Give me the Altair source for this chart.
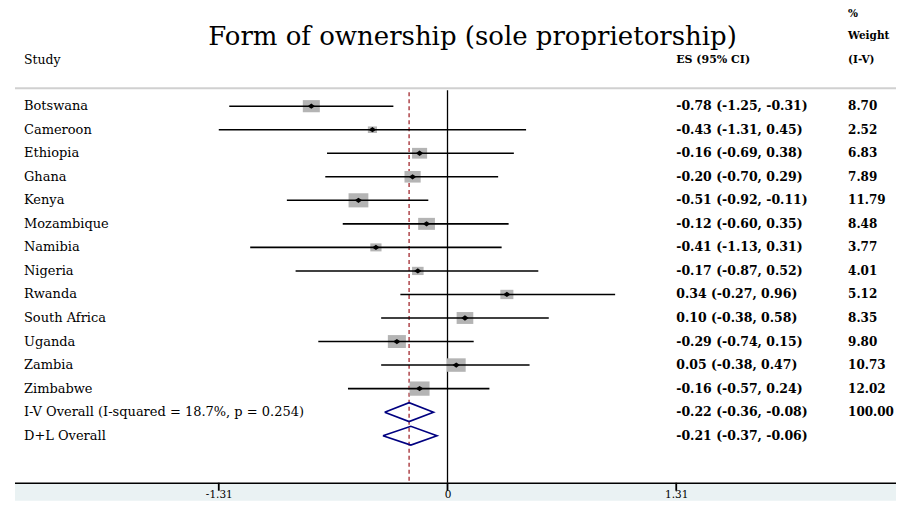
import altair as alt
import pandas as pd

# ---------------- data ----------------
studies = ["Botswana", "Cameroon", "Ethiopia", "Ghana", "Kenya", "Mozambique", "Namibia",
           "Nigeria", "Rwanda", "South Africa", "Uganda", "Zambia", "Zimbabwe"]
es = [-0.78, -0.43, -0.16, -0.20, -0.51, -0.12, -0.41, -0.17, 0.34, 0.10, -0.29, 0.05, -0.16]
lo = [-1.25, -1.31, -0.69, -0.70, -0.92, -0.60, -1.13, -0.87, -0.27, -0.38, -0.74, -0.38, -0.57]
hi = [-0.31, 0.45, 0.38, 0.29, -0.11, 0.35, 0.31, 0.52, 0.96, 0.58, 0.15, 0.47, 0.24]
weights = [8.70, 2.52, 6.83, 7.89, 11.79, 8.48, 3.77, 4.01, 5.12, 8.35, 9.80, 10.73, 12.02]

overall_labels = ["I-V Overall  (I-squared = 18.7%, p = 0.254)", "D+L Overall"]
overall_es = [-0.22, -0.21]
overall_lo = [-0.36, -0.37]
overall_hi = [-0.08, -0.06]
overall_w = ["100.00", ""]

title_text = "Form of ownership (sole proprietorship)"
x_ticks = [-1.31, 0, 1.31]

# ---------------- tables ----------------
n = len(studies)
df = pd.DataFrame({"study": studies, "es": es, "lo": lo, "hi": hi, "w": weights,
                   "row": list(range(n))})
df["es_txt"] = [f"{e:.2f} ({l:.2f}, {h:.2f})" for e, l, h in zip(es, lo, hi)]
df["w_txt"] = [f"{v:.2f}" for v in weights]

ov = pd.DataFrame({"study": overall_labels, "es": overall_es, "lo": overall_lo,
                   "hi": overall_hi, "w_txt": overall_w,
                   "row": [n, n + 1]})
ov["es_txt"] = [f"{e:.2f} ({l:.2f}, {h:.2f})" for e, l, h in zip(overall_es, overall_lo, overall_hi)]

labels_df = pd.concat([df[["study", "es_txt", "w_txt", "row"]],
                       ov[["study", "es_txt", "w_txt", "row"]]], ignore_index=True)

HALF = 0.4
dia_rows = []
for i, r in ov.iterrows():
    pts = [(r.lo, r.row), (r.es, r.row - HALF), (r.hi, r.row), (r.es, r.row + HALF), (r.lo, r.row)]
    for k, (px, py) in enumerate(pts):
        dia_rows.append({"id": i, "k": k, "x": px, "y": py})
dia = pd.DataFrame(dia_rows)

zero_df = pd.DataFrame({"x": [0.0]})
ref_df = pd.DataFrame({"x": [overall_es[0]]})
ticks_df = pd.DataFrame({"tx": x_ticks})
one = pd.DataFrame({"z": [0]})

# ---------------- scales ----------------
W, H = 889, 475
PX = 174.8
X0 = 440
xscale = alt.Scale(domain=[-X0 / PX, (W - X0) / PX], nice=False, zero=False, padding=0)
yscale = alt.Scale(domain=[16.0, -4.16], nice=False, zero=False, padding=0)

SERIF = "DejaVu Serif"

AX = alt.Axis(values=x_ticks, domain=False, grid=False, ticks=False,
              labelFont=SERIF, labelFontSize=10.5,
              labelColor="black", labelPadding=7, zindex=1, labelBaseline="top",
              labelExpr="datum.value == 0 ? '0' : (datum.value < 0 ? '-' + format(-datum.value, '.2f') : format(datum.value, '.2f'))")

def X(field):
    return alt.X(field, scale=xscale, axis=AX, title=None)

def Y(field):
    return alt.Y(field, scale=yscale, axis=None)

# bottom band
band = alt.Chart(one).mark_rect(color="#eaf2f3").encode(
    x=alt.value(7), x2=alt.value(W), y=alt.value(476), y2=alt.value(493))
axis_line = alt.Chart(one).mark_rule(color="black", strokeWidth=1.5).encode(
    x=alt.value(7), x2=alt.value(W), y=alt.value(475.5))
tick_marks = alt.Chart(ticks_df).mark_rule(color="black", strokeWidth=1.8, clip=False).encode(
    x=X("tx:Q"), y=alt.value(475), y2=alt.value(483))
sep_line = alt.Chart(one).mark_rule(color="#d0d0d0", strokeWidth=2).encode(
    x=alt.value(7), x2=alt.value(W), y=alt.value(80))

zero_rule = alt.Chart(zero_df).mark_rule(color="black", strokeWidth=1.3).encode(
    x=X("x:Q"), y=alt.value(82), y2=alt.value(475))
ref_rule = alt.Chart(ref_df).mark_rule(color="#a3282e", strokeWidth=1.3, strokeDash=[4, 3]).encode(
    x=X("x:Q"), y=alt.value(84), y2=alt.value(475))

boxes = alt.Chart(df).mark_point(shape="M-1.4,-1L1.4,-1L1.4,1L-1.4,1Z", filled=True,
                                 color="#b4b4b4", opacity=1).encode(
    x=X("es:Q"), y=Y("row:Q"),
    size=alt.Size("w:Q", scale=alt.Scale(domain=[0, 12], range=[0, 204]), legend=None))
ci = alt.Chart(df).mark_rule(color="black", strokeWidth=1.6).encode(
    x=X("lo:Q"), x2="hi:Q", y=Y("row:Q"))
dots = alt.Chart(df).mark_point(shape="M-1.4,0L0,-1L1.4,0L0,1Z", filled=True, color="black",
                                size=28, opacity=1).encode(x=X("es:Q"), y=Y("row:Q"))
diamonds = alt.Chart(dia).mark_line(color="#000080", strokeWidth=1.6).encode(
    x=X("x:Q"), y=Y("y:Q"), detail="id:N", order="k:Q")

study_txt = alt.Chart(labels_df).mark_text(align="left", baseline="middle", font=SERIF,
                                           fontSize=13, color="black").encode(
    x=alt.value(16), y=Y("row:Q"), text="study:N")
es_txt = alt.Chart(labels_df).mark_text(align="left", baseline="middle", font=SERIF,
                                        fontSize=12.5, fontWeight="bold", color="black").encode(
    x=alt.value(669), y=Y("row:Q"), text="es_txt:N")
w_txt = alt.Chart(labels_df).mark_text(align="left", baseline="middle", font=SERIF,
                                       fontSize=12, fontWeight="bold", color="black").encode(
    x=alt.value(841), y=Y("row:Q"), text="w_txt:N")

def header(txt, x, y, size, bold=False, align="left"):
    return alt.Chart(pd.DataFrame({"t": [txt]})).mark_text(
        align=align, baseline="middle", font=SERIF, fontSize=size,
        fontWeight="bold" if bold else "normal", color="black").encode(
        x=alt.value(x), y=alt.value(y), text="t:N")

title = header(title_text, 465, 29, 26, align="center")
h_study = header("Study", 16, 52, 12.5)
h_es = header("ES (95% CI)", 669, 52, 11, bold=True)
h_pct = header("%", 841, 6, 10.5, bold=True)
h_weight = header("Weight", 841, 28, 10.5, bold=True)
h_iv = header("(I-V)", 841, 52, 10.5, bold=True)

chart = alt.layer(
    band, zero_rule, ref_rule, boxes, ci, dots, diamonds, axis_line, sep_line,
    study_txt, es_txt, w_txt, title, h_study, h_es, h_pct, h_weight, h_iv, tick_marks
).properties(width=W, height=H, padding=0).configure_view(stroke=None)

chart.save("out.html", embed_options={"renderer": "svg", "actions": False})
